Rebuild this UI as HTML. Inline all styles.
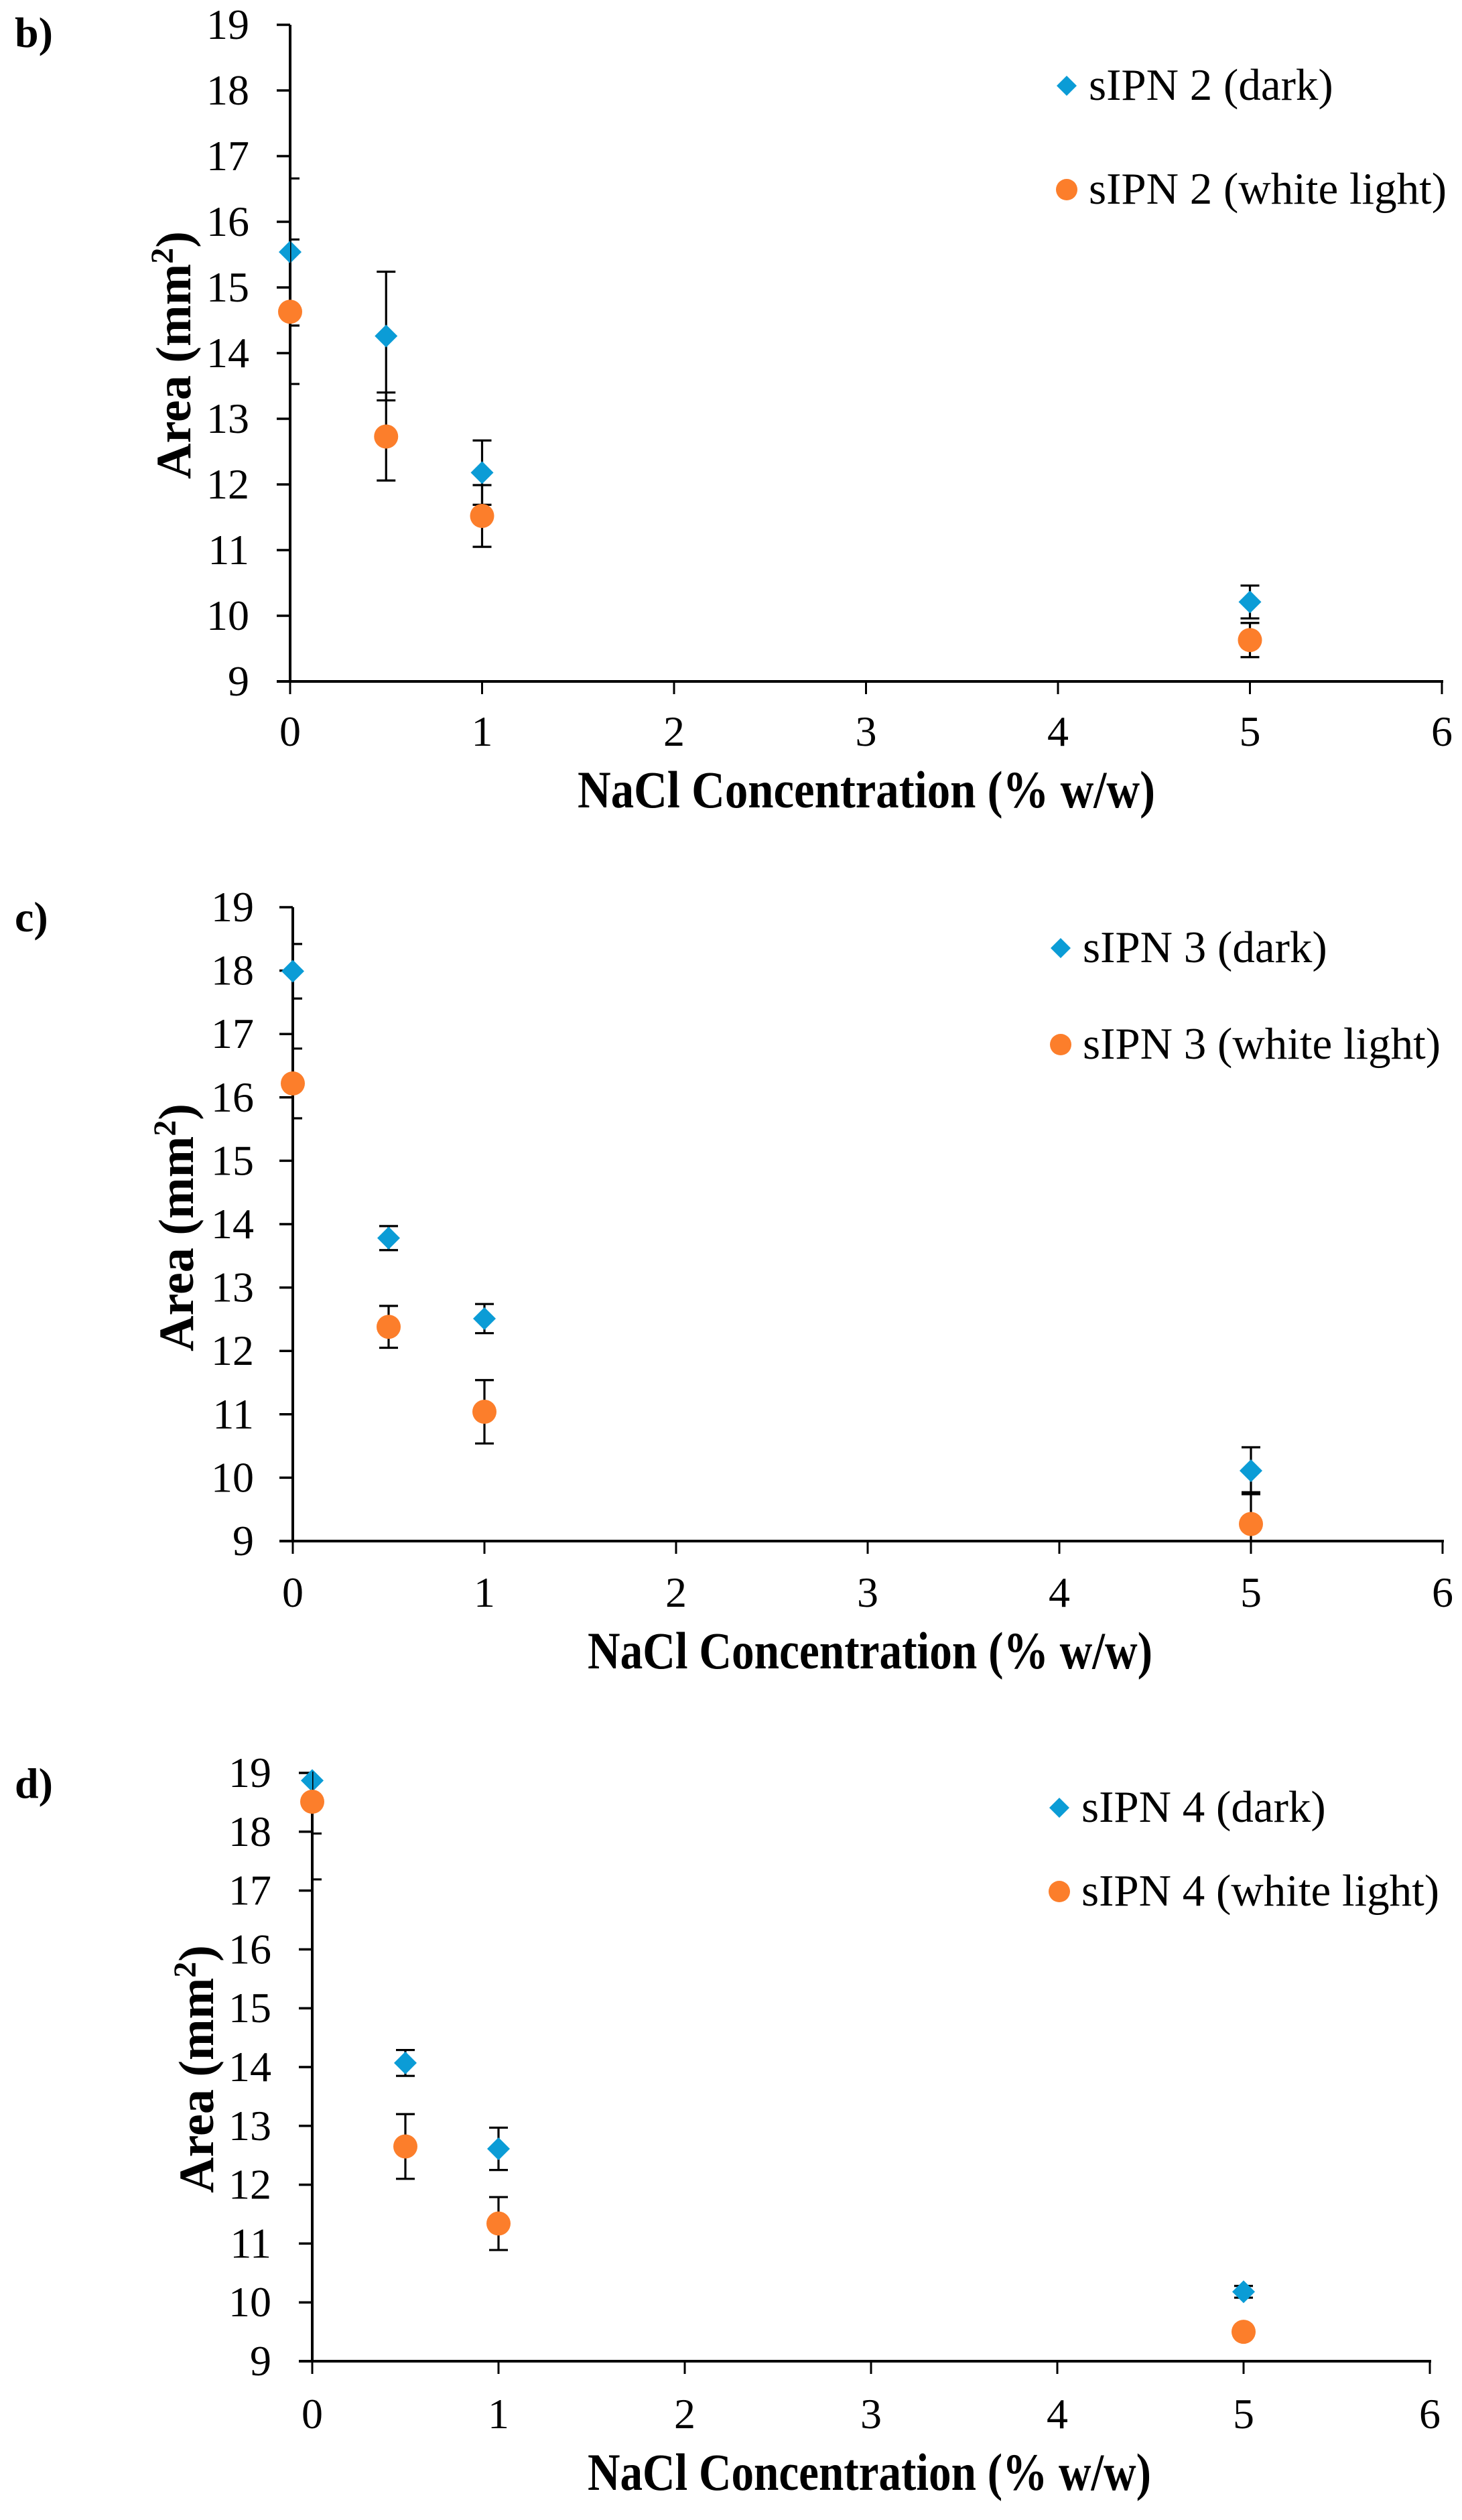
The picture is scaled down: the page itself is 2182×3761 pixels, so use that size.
<!DOCTYPE html>
<html><head><meta charset="utf-8"><style>
html,body{margin:0;padding:0;background:#fff;}
svg{display:block;font-family:"Liberation Serif","DejaVu Serif",serif;}
svg text{font-family:"Liberation Serif","DejaVu Serif",serif;fill:#000;}
</style></head><body>
<svg id="fig" width="2182" height="3761" viewBox="0 0 2182 3761" font-family="Liberation Serif, DejaVu Serif, serif" xmlns="http://www.w3.org/2000/svg"></svg>
<script>
// shared data
const xCategories = [0, 0.5, 1, 5];
const xTickLabels = ["0","1","2","3","4","5","6"];
const yTickLabels = ["9","10","11","12","13","14","15","16","17","18","19"];
// panel b
const bDark = [15.54, 14.26, 12.18, 10.21];
const bDarkErr = [1.12, 0.98, 0.49, 0.25];
const bLight = [14.63, 12.73, 11.52, 9.63];
const bLightErr = [1.1, 0.67, 0.47, 0.26];
// panel c
const cDark = [17.99, 13.78, 12.51, 10.11];
const cDarkErr = [0.43, 0.19, 0.23, 0.37];
const cLight = [16.22, 12.38, 11.04, 9.27];
const cLightErr = [0.55, 0.33, 0.5, 0.5];
// panel d
const dDark = [18.87, 14.07, 12.61, 10.18];
const dDarkErr = [0.9, 0.22, 0.36, 0.1];
const dLight = [18.51, 12.65, 11.34, 9.5];
const dLightErr = [1.32, 0.55, 0.45, 0.05];

const NS = "http://www.w3.org/2000/svg";
const svg = document.getElementById("fig");
const FONT = "'Liberation Serif', 'DejaVu Serif', serif";
function mk(tag, attrs, parent){
  const e = document.createElementNS(NS, tag);
  for (const k in attrs) e.setAttribute(k, attrs[k]);
  if (tag === "text") e.setAttribute("font-family", FONT);
  (parent||svg).appendChild(e);
  return e;
}
const BLUE = "#0b9cd6", ORANGE = "#fc7e2b";

function panel(p){
  const g = mk("g", {});
  
  
  const X = v => p.x0 + v * (p.x6 - p.x0) / 6;
  const Y = v => p.y9 - (v - 9) * (p.y9 - p.y19) / 10;
  const lab = mk("text", {x: 22, y: p.labY, "font-size": 64, "font-weight": "bold"}, g);
  lab.textContent = p.key + ")";
  
  
  yTickLabels.forEach((t) => {
    const v = parseFloat(t);
    const tk = mk("line", {x1: p.x0 - 20, x2: p.x0, y1: Y(v), y2: Y(v), stroke: "#000", "stroke-width": 3.5}, g);
    
    
    const tl = mk("text", {x: p.ylabR, y: Y(v) + 21, "font-size": 64, "text-anchor": "end"}, g);
    tl.textContent = t;
    
    
  });
  xTickLabels.forEach((t) => {
    const v = parseFloat(t);
    const tk = mk("line", {x1: X(v), x2: X(v), y1: p.y9, y2: p.y9 + 19, stroke: "#000", "stroke-width": 3}, g);
    
    
    const tl = mk("text", {x: X(v), y: p.xlabY, "font-size": 64, "text-anchor": "middle"}, g);
    tl.textContent = t;
    
    
  });
  const ya = mk("line", {x1: p.x0, x2: p.x0, y1: p.y19, y2: p.y9 + 2, stroke: "#000", "stroke-width": 4}, g);
  
  
  const xa = mk("line", {x1: p.x0 - 20, x2: p.x6 + 2, y1: p.y9, y2: p.y9, stroke: "#000", "stroke-width": 4}, g);
  
  
  const xt = mk("text", {x: p.xtX, y: p.xtY, "font-size": 78, "font-weight": "bold", textLength: p.xtW, lengthAdjust: "spacingAndGlyphs"}, g);
  xt.textContent = p.xTitle;
  
  
  const yt = mk("text", {x: 0, y: 0, "font-size": 74, "font-weight": "bold", "text-anchor": "middle", transform: `translate(${p.ytX},${p.ytY}) rotate(-90)`}, g);
  yt.innerHTML = 'Area (mm<tspan font-size="48" dy="-26">2</tspan><tspan dy="26">)</tspan>';
  
  
  const cid = "clip" + p.key;
  const cp = mk("clipPath", {id: cid}, g);
  mk("rect", {x: p.x0, y: p.y19 - 2, width: p.x6 - p.x0 + 10, height: p.y9 - p.y19 + 2}, cp);
  function series(vals, errs, color, shape, name){
    const sg = mk("g", {}, g);
    
    
    const eg = mk("g", {"clip-path": `url(#${cid})`}, sg);
    vals.forEach((v, i) => {
      const cx = X(xCategories[i]);
      const hi = Y(v + errs[i]), lo = Y(v - errs[i]);
      const eb = mk("path", {d: `M${cx},${hi}V${lo}M${cx-14},${hi}H${cx+14}M${cx-14},${lo}H${cx+14}`, stroke: "#000", "stroke-width": 3.2, fill: "none"}, eg);
      
      
    });
    vals.forEach((v, i) => {
      const cx = X(xCategories[i]), cy = Y(v);
      let m;
      if (shape === "diamond") m = mk("path", {d: `M${cx},${cy-17}L${cx+17},${cy}L${cx},${cy+17}L${cx-17},${cy}Z`, fill: color}, sg);
      else m = mk("circle", {cx: cx, cy: cy, r: 18, fill: color}, sg);
      
      
    });
  }
  series(p.dark, p.darkErr, BLUE, "diamond", "series-dark");
  series(p.light, p.lightErr, ORANGE, "circle", "series-white-light");
  const lg = mk("g", {}, g);
  
  
  const e1 = mk("g", {}, lg);
  
  
  mk("path", {d: `M${p.lgX},${p.lgY1-15}L${p.lgX+15},${p.lgY1}L${p.lgX},${p.lgY1+15}L${p.lgX-15},${p.lgY1}Z`, fill: BLUE}, e1);
  const t1 = mk("text", {x: p.lgX + 33, y: p.lgY1 + 21, "font-size": 67}, e1);
  t1.textContent = `sIPN ${p.num} (dark)`;
  const e2 = mk("g", {}, lg);
  
  
  mk("circle", {cx: p.lgX, cy: p.lgY2, r: 16, fill: ORANGE}, e2);
  const t2 = mk("text", {x: p.lgX + 33, y: p.lgY2 + 21, "font-size": 67}, e2);
  t2.textContent = `sIPN ${p.num} (white light)`;
}

panel({key: "b", num: 2, x0: 433, x6: 2152, y19: 37, y9: 1017, labY: 70, ylabR: 372,
  xlabY: 1113, xTitle: "NaCl Concentration (%  w/w)", xtX: 862, xtY: 1205, xtW: 862,
  ytX: 284, ytY: 530, lgX: 1592, lgY1: 128, lgY2: 283,
  dark: bDark, darkErr: bDarkErr, light: bLight, lightErr: bLightErr});
panel({key: "c", num: 3, x0: 437, x6: 2153, y19: 1354, y9: 2300, labY: 1390, ylabR: 379,
  xlabY: 2398, xTitle: "NaCl Concentration (% w/w)", xtX: 877, xtY: 2490, xtW: 843,
  ytX: 288, ytY: 1832, lgX: 1583, lgY1: 1415, lgY2: 1559,
  dark: cDark, darkErr: cDarkErr, light: cLight, lightErr: cLightErr});
panel({key: "d", num: 4, x0: 466, x6: 2134, y19: 2646, y9: 3524, labY: 2683, ylabR: 405,
  xlabY: 3624, xTitle: "NaCl Concentration (% w/w)", xtX: 877, xtY: 3716, xtW: 841,
  ytX: 318, ytY: 3088, lgX: 1581, lgY1: 2698, lgY2: 2823,
  dark: dDark, darkErr: dDarkErr, light: dLight, lightErr: dLightErr});
</script>
</body></html>
